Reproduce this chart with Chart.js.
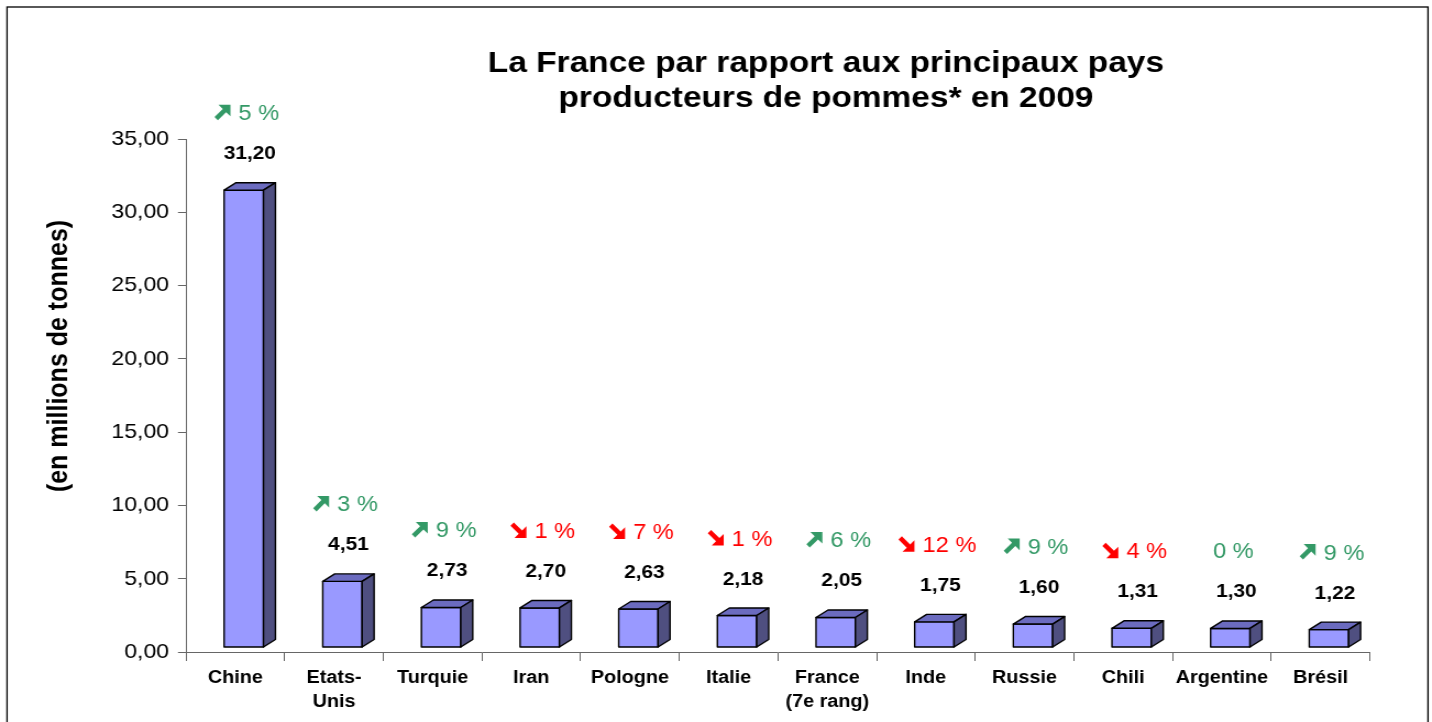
<!DOCTYPE html>
<html lang="fr">
<head>
<meta charset="utf-8">
<script src="https://cdn.jsdelivr.net/npm/chart.js@4"></script>
<style>
  html, body { margin: 0; padding: 0; background: #fff; overflow: hidden; }
  /* le graphique d'origine est étiré horizontalement */
  #cadre { width: 1302px; height: 722px; transform: scaleX(1.0998); transform-origin: 0 0; }
</style>
</head>
<body>
<div id="cadre"><canvas id="graphique"></canvas></div>
<script>
const pays = ['Chine', ['Etats-', 'Unis'], 'Turquie', 'Iran', 'Pologne', 'Italie', ['France', '(7e rang)'], 'Inde', 'Russie', 'Chili', 'Argentine', 'Brésil'];
const production = [31.20, 4.51, 2.73, 2.70, 2.63, 2.18, 2.05, 1.75, 1.60, 1.31, 1.30, 1.22];
const evolution = [5, 3, 9, -1, -7, -1, 6, -12, 9, -4, 0, 9];
const graduations = [0, 5, 10, 15, 20, 25, 30, 35];
const titre = ['La France par rapport aux principaux pays', 'producteurs de pommes* en 2009'];
const titreAxe = '(en millions de tonnes)';

const police = '"Liberation Sans", Arial, sans-serif';
Chart.defaults.font.family = police;
Chart.defaults.color = '#000';

const virgule = v => v.toFixed(2).replace('.', ',');
const VERT = '#339966';
const ROUGE = '#FF0000';

// flèche épaisse façon Wingdings
function fleche(ctx, x, y, lx, ly, hausse) {
  const pts = [[1, 0], [0.25, 0], [0.52, 0.27], [0, 0.79], [0.21, 1], [0.73, 0.48], [1, 0.75]];
  ctx.beginPath();
  pts.forEach(([u, v], i) => {
    const px = x + u * lx;
    const py = y + (hausse ? v : 1 - v) * ly;
    if (i === 0) ctx.moveTo(px, py); else ctx.lineTo(px, py);
  });
  ctx.closePath();
  ctx.fill();
}

const decor = {
  id: 'decor',
  beforeDraw(chart) {
    const ctx = chart.ctx;
    ctx.save();
    ctx.fillStyle = '#fff';
    ctx.fillRect(0, 0, chart.width, chart.height);
    ctx.strokeStyle = '#000';
    ctx.lineWidth = 1.3;
    ctx.strokeRect(6.4, 7, 1292, 740);

    ctx.fillStyle = '#000';
    ctx.font = 'bold 30.4px ' + police;
    ctx.textAlign = 'center';
    ctx.textBaseline = 'alphabetic';
    ctx.fillText(titre[0], 751, 72);
    ctx.fillText(titre[1], 751, 107);

    ctx.translate(54.5, 356);
    ctx.rotate(-Math.PI / 2);
    ctx.font = 'bold 25px ' + police;
    ctx.textBaseline = 'middle';
    ctx.fillText(titreAxe, 0, 0);
    ctx.restore();
  },
  afterDatasetsDraw(chart) {
    const ctx = chart.ctx;
    const meta = chart.getDatasetMeta(0);
    const dx = 10.9, dy = 7.5;
    meta.data.forEach((bar, i) => {
      const l = bar.x - bar.width / 2 + 7.7;
      const r = l + bar.width;
      const t = bar.y - 4.5;
      const b = bar.base - 4.5;
      ctx.save();
      ctx.lineWidth = 1.4;
      ctx.strokeStyle = '#000';
      ctx.lineJoin = 'round';

      ctx.fillStyle = '#9999FF';
      ctx.beginPath();
      ctx.rect(l, t, r - l, b - t);
      ctx.fill();
      ctx.stroke();

      ctx.fillStyle = '#6B6BBF';
      ctx.beginPath();
      ctx.moveTo(l, t);
      ctx.lineTo(l + dx, t - dy);
      ctx.lineTo(r + dx, t - dy);
      ctx.lineTo(r, t);
      ctx.closePath();
      ctx.fill();
      ctx.stroke();

      ctx.fillStyle = '#4F4F80';
      ctx.beginPath();
      ctx.moveTo(r, t);
      ctx.lineTo(r + dx, t - dy);
      ctx.lineTo(r + dx, b - dy);
      ctx.lineTo(r, b);
      ctx.closePath();
      ctx.fill();
      ctx.stroke();

      // valeur
      ctx.fillStyle = '#000';
      ctx.font = 'bold 19px ' + police;
      ctx.textAlign = 'center';
      ctx.textBaseline = 'alphabetic';
      ctx.fillText(virgule(production[i]), bar.x + 13.2, t - 37.8 + 6.8);

      // évolution
      const e = evolution[i];
      const txt = Math.abs(e) + ' %';
      ctx.font = '21.5px ' + police;
      const tw = ctx.measureText(txt).width;
      const cy = t - 77.7;
      ctx.fillStyle = e < 0 ? ROUGE : VERT;
      ctx.textAlign = 'left';
      if (e === 0) {
        ctx.fillText(txt, bar.x + 10.5 - tw / 2, cy + 7.7);
      } else {
        const larg = 14.5 + 7.3 + tw;
        const x0 = bar.x + 10.5 - larg / 2;
        fleche(ctx, x0, cy - 7.8, 14.5, 15.5, e > 0);
        ctx.fillText(txt, x0 + 14.5 + 7.3, cy + 7.7);
      }
      ctx.restore();
    });
  }
};

new Chart(document.getElementById('graphique'), {
  type: 'bar',
  data: {
    labels: pays,
    datasets: [{
      data: production,
      backgroundColor: 'rgba(0,0,0,0)',
      borderWidth: 0,
      barPercentage: 0.399,
      categoryPercentage: 1
    }]
  },
  options: {
    responsive: true,
    maintainAspectRatio: false,
    animation: false,
    layout: { padding: { top: 139, right: 56.5, bottom: 0, left: 0 } },
    plugins: {
      legend: { display: false },
      tooltip: { enabled: false }
    },
    scales: {
      x: {
        grid: { display: true, offset: true, drawOnChartArea: false, tickLength: 9, color: '#666' },
        border: { display: true, color: '#666', width: 1 },
        ticks: {
          autoSkip: false,
          maxRotation: 0,
          padding: 5,
          color: '#000',
          font: { size: 18, weight: 'bold', lineHeight: 1.33 }
        },
        afterFit: s => { s.height = 70; }
      },
      y: {
        min: 0,
        max: 35,
        afterBuildTicks: s => { s.ticks = graduations.map(v => ({ value: v })); },
        grid: { display: true, drawOnChartArea: false, tickLength: 7.3, color: '#666' },
        border: { display: true, color: '#666', width: 1 },
        ticks: {
          padding: 8,
          color: '#000',
          font: { size: 21 },
          callback: v => virgule(v)
        },
        afterFit: s => { s.width = 169.1; }
      }
    }
  },
  plugins: [decor]
});
</script>
</body>
</html>
